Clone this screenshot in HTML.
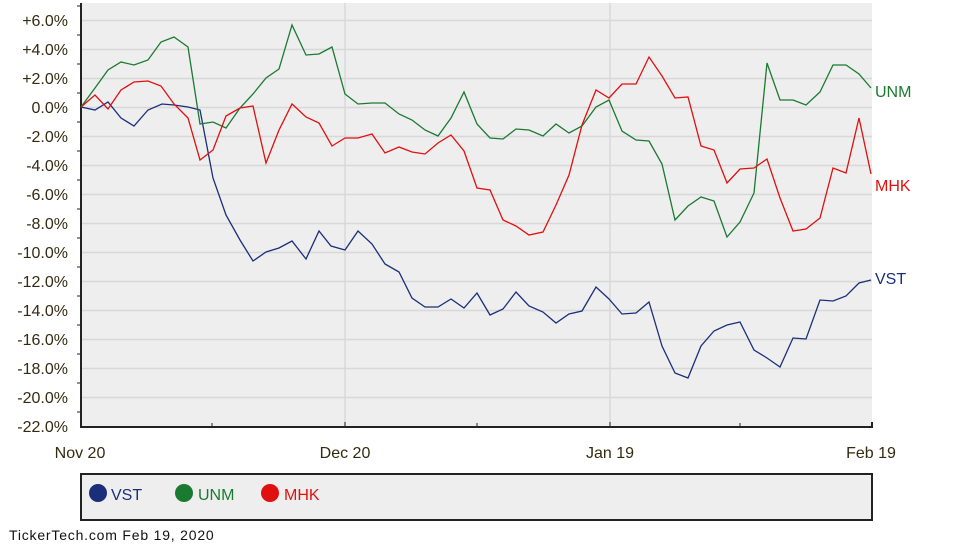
<!DOCTYPE html>
<html><head><meta charset="utf-8"><style>
body{margin:0;background:#fff;}
svg{display:block;font-family:"Liberation Sans",sans-serif;}
</style></head><body>
<svg width="960" height="544" xmlns="http://www.w3.org/2000/svg">
<rect x="81" y="3" width="791" height="424" fill="#eeeeee"/>
<g stroke="#d8d8d8" stroke-width="1.5">
<line x1="81" x2="872" y1="20.5" y2="20.5"/><line x1="81" x2="872" y1="49.5" y2="49.5"/><line x1="81" x2="872" y1="78.5" y2="78.5"/><line x1="81" x2="872" y1="107.5" y2="107.5"/><line x1="81" x2="872" y1="136.5" y2="136.5"/><line x1="81" x2="872" y1="165.5" y2="165.5"/><line x1="81" x2="872" y1="194.5" y2="194.5"/><line x1="81" x2="872" y1="223.5" y2="223.5"/><line x1="81" x2="872" y1="252.5" y2="252.5"/><line x1="81" x2="872" y1="281.5" y2="281.5"/><line x1="81" x2="872" y1="310.5" y2="310.5"/><line x1="81" x2="872" y1="339.5" y2="339.5"/><line x1="81" x2="872" y1="368.5" y2="368.5"/><line x1="81" x2="872" y1="397.5" y2="397.5"/>
<line x1="345" x2="345" y1="3" y2="427"/><line x1="610" x2="610" y1="3" y2="427"/>
</g>
<g stroke="#222" stroke-width="2" fill="none">
<polyline points="81,3 81,427 872,427 872,422"/>
</g>
<g stroke="#222" stroke-width="1">
<line x1="77" x2="81" y1="6" y2="6"/><line x1="77" x2="81" y1="35" y2="35"/><line x1="77" x2="81" y1="64" y2="64"/><line x1="77" x2="81" y1="93" y2="93"/><line x1="77" x2="81" y1="122" y2="122"/><line x1="77" x2="81" y1="151" y2="151"/><line x1="77" x2="81" y1="180" y2="180"/><line x1="77" x2="81" y1="209" y2="209"/><line x1="77" x2="81" y1="238" y2="238"/><line x1="77" x2="81" y1="267" y2="267"/><line x1="77" x2="81" y1="296" y2="296"/><line x1="77" x2="81" y1="325" y2="325"/><line x1="77" x2="81" y1="354" y2="354"/><line x1="77" x2="81" y1="383" y2="383"/><line x1="77" x2="81" y1="412" y2="412"/>
<line x1="212" x2="212" y1="423" y2="427"/><line x1="345" x2="345" y1="422" y2="427"/><line x1="477" x2="477" y1="423" y2="427"/><line x1="610" x2="610" y1="422" y2="427"/><line x1="740" x2="740" y1="423" y2="427"/>
</g>
<g fill="#332a10" font-size="16" text-anchor="end">
<text x="68" y="26">+6.0%</text><text x="68" y="55">+4.0%</text><text x="68" y="84">+2.0%</text><text x="68" y="113">0.0%</text><text x="68" y="142">-2.0%</text><text x="68" y="171">-4.0%</text><text x="68" y="200">-6.0%</text><text x="68" y="229">-8.0%</text><text x="68" y="258">-10.0%</text><text x="68" y="287">-12.0%</text><text x="68" y="316">-14.0%</text><text x="68" y="345">-16.0%</text><text x="68" y="374">-18.0%</text><text x="68" y="403">-20.0%</text><text x="68" y="432">-22.0%</text>
</g>
<g fill="#332a10" font-size="16" text-anchor="middle">
<text x="80" y="458">Nov 20</text><text x="345" y="458">Dec 20</text><text x="610" y="458">Jan 19</text><text x="871" y="458">Feb 19</text>
</g>
<g fill="none" stroke-width="1.3">
<polyline stroke="#1a2f7a" points="81,107 95,110 108,102 121,118 134,126 148,110 162,104 174,105 188,107 200,110 213,178 226,215 240,240 253,261 266,252 279,248 292,241 306,259 319,231 331,246 345,250 358,231 372,244 385,264 399,272 412,298 425,307 438,307 451,299 464,308 477,293 490,315 503,309 516,292 529,306 543,312 556,323 569,314 582,311 596,287 609,299 622,314 636,313 649,302 662,346 675,373 688,378 701,346 714,331 727,325 740,322 754,350 767,358 780,367 793,338 806,339 820,300 833,301 846,296 859,283 871,280"/>
<polyline stroke="#1a7a30" points="81,107 95,88 108,70 121,62 134,65 148,60 161,42 174,37 188,47 200,124 213,122 226,128 240,108 253,94 266,78 279,69 292,25 306,55 319,54 332,47 345,94 358,104 372,103 385,103 399,114 412,120 425,130 438,136 451,118 464,92 477,124 490,138 503,139 516,129 529,130 543,136 556,124 569,133 582,126 596,107 609,100 622,131 636,140 649,141 662,164 675,220 688,206 701,197 714,201 727,237 740,222 754,193 767,63 780,100 793,100 806,105 820,92 833,65 846,65 859,74 871,88"/>
<polyline stroke="#e01010" points="81,107 95,95 108,109 121,90 134,82 148,81 161,86 174,104 188,118 200,160 213,150 226,116 240,108 253,106 266,163 279,130 292,104 306,117 319,123 332,146 345,138 358,138 372,134 385,153 399,147 412,152 425,154 438,143 451,135 464,151 477,188 490,190 503,220 516,226 529,235 543,232 556,205 569,175 582,125 596,90 609,98 622,84 636,84 649,57 662,76 675,98 688,97 701,146 714,150 727,183 740,169 754,168 767,159 780,198 793,231 806,229 820,218 833,168 846,173 859,118 871,174"/>
</g>
<g font-size="16">
<text x="875" y="97" fill="#1a7a30">UNM</text>
<text x="875" y="191" fill="#e01010">MHK</text>
<text x="875" y="284" fill="#1a2f7a">VST</text>
</g>
<rect x="81" y="474" width="791" height="46" fill="#eeeeee" stroke="#222" stroke-width="2"/>
<circle cx="98" cy="493" r="9" fill="#1a2f7a"/><text x="111" y="500" font-size="16" fill="#1a2f7a">VST</text>
<circle cx="184" cy="493" r="9" fill="#1a7a30"/><text x="198" y="500" font-size="16" fill="#1a7a30">UNM</text>
<circle cx="270" cy="493" r="9" fill="#e01010"/><text x="284" y="500" font-size="16" fill="#e01010">MHK</text>
<text x="9" y="540" font-size="14" fill="#111" letter-spacing="0.8">TickerTech.com  Feb 19, 2020</text>
</svg>
</body></html>
